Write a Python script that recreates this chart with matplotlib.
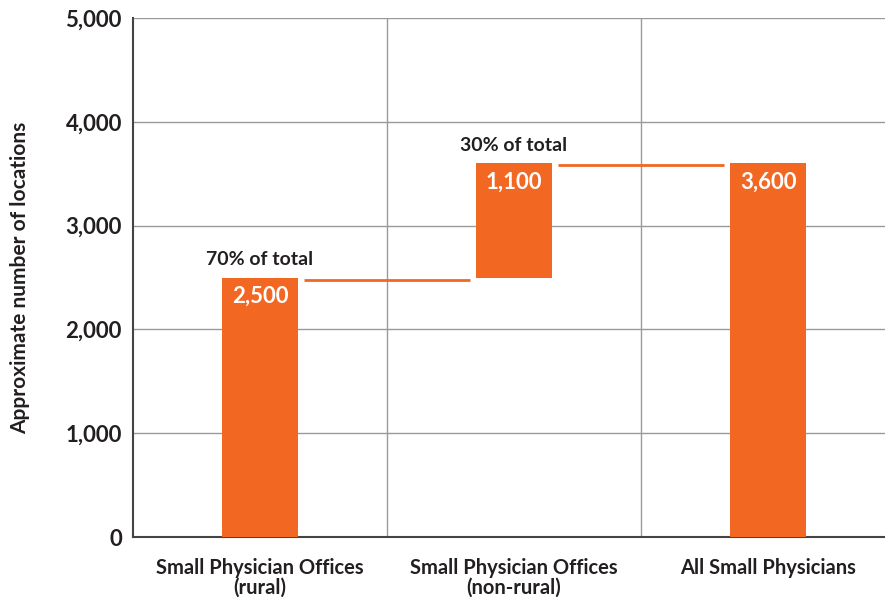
import matplotlib.pyplot as plt

categories = ["Small Physician Offices\n(rural)", "Small Physician Offices\n(non-rural)", "All Small Physicians"]
values = [2500, 1100, 3600]
bottoms = [0, 2500, 0]
value_labels = ["2,500", "1,100", "3,600"]
share_labels = ["70% of total", "30% of total", None]
yticks = [0, 1000, 2000, 3000, 4000, 5000]
ytick_labels = ["0", "1,000", "2,000", "3,000", "4,000", "5,000"]

orange = "#F26722"
dark = "#231F20"
plt.rcParams['font.family'] = ['Lato', 'DejaVu Sans']

fig = plt.figure(figsize=(8.85, 5.97), dpi=100)
ax = fig.add_axes([133 / 885, 1 - 537 / 597, 1 - 133 / 885, (537 - 18) / 597])

x = list(range(len(categories)))
width = 0.30
ax.bar(x, values, width=width, bottom=bottoms, color=orange, zorder=3)

# value labels inside bars, share labels above
for i in x:
    top = bottoms[i] + values[i]
    ax.text(i, top - 80, value_labels[i], ha='center', va='top', color='white',
            fontsize=16, fontweight='bold', zorder=4)
    if share_labels[i]:
        ax.text(i, top + 90, share_labels[i], ha='center', va='bottom', color=dark,
                fontsize=14, fontweight='bold', zorder=4)

# connector lines between bars
gap = 0.025
for i in range(len(x) - 1):
    level = bottoms[i] + values[i] if i == 0 else values[-1]
    ax.plot([i + width / 2 + gap, i + 1 - width / 2 - gap], [level - 20, level - 20],
            color=orange, lw=2, zorder=3, solid_capstyle='butt')

ax.set_xlim(-0.5, 2.5 - 10 / 254)
ax.set_ylim(0, 5000)
ax.set_yticks(yticks)
ax.set_yticklabels(ytick_labels)
ax.set_xticks(x)
ax.set_xticklabels(categories)
for i in [0.5, 1.5]:
    ax.axvline(i, color='#9a9a9a', lw=1, zorder=1)
ax.grid(axis='y', color='#9a9a9a', lw=1, zorder=1)
ax.tick_params(length=0, labelsize=16, colors=dark, pad=8)
ax.tick_params(axis='x', labelsize=14.5, pad=15)
for lab in ax.get_xticklabels() + ax.get_yticklabels():
    lab.set_fontweight('bold')
    lab.set_linespacing(1.0)
ax.spines['top'].set_visible(False)
ax.spines['right'].set_visible(False)
for s in ['left', 'bottom']:
    ax.spines[s].set_color('#444444')
    ax.spines[s].set_linewidth(1.5)

ax.set_ylabel("Approximate number of locations", fontsize=15, fontweight='bold', color=dark)
ax.yaxis.set_label_coords(-0.137, 0.5)

fig.savefig("out.png", dpi=100)
